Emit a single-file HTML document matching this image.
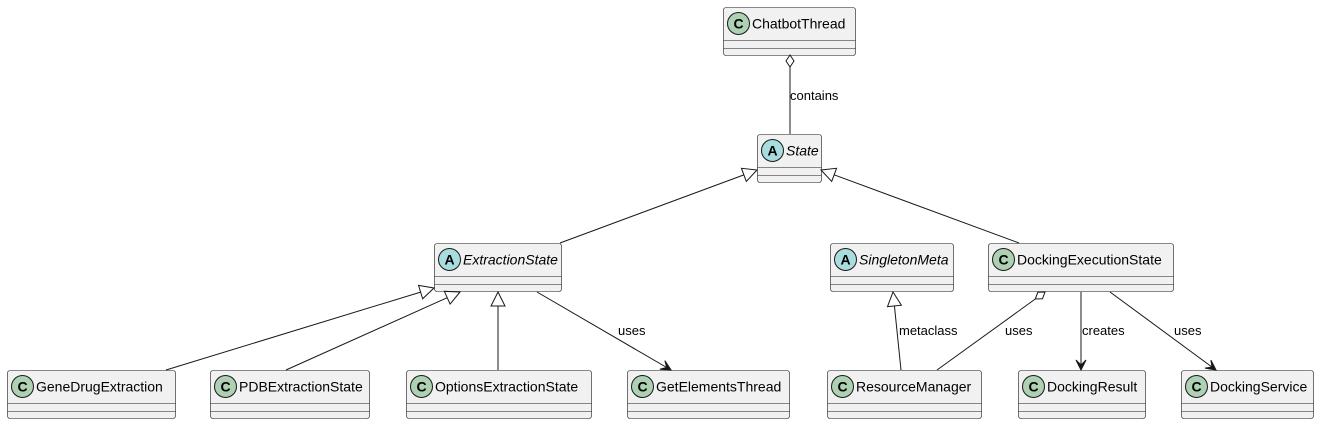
<!DOCTYPE html>
<html><head><meta charset="utf-8"><style>
html,body{margin:0;padding:0;background:#fff;width:1320px;height:424px;overflow:hidden}
svg{display:block}
text{font-family:"Liberation Sans","DejaVu Sans",sans-serif}
</style></head><body>
<svg id="s" width="1320" height="424" xmlns="http://www.w3.org/2000/svg">
<text x="790" y="100" font-size="13" fill="#000">contains</text>
<text x="618" y="335" font-size="13">uses</text>
<text x="899" y="335" font-size="13">metaclass</text>
<text x="1005" y="335" font-size="13">uses</text>
<text x="1082" y="335" font-size="13">creates</text>
<text x="1174" y="335" font-size="13">uses</text>
</svg>
<script>
const s=document.getElementById('s');const NS='http://www.w3.org/2000/svg';
function el(t,a,txt){const e=document.createElementNS(NS,t);for(const k in a)e.setAttribute(k,a[k]);if(txt)e.textContent=txt;s.appendChild(e);return e;}
function box(x,y,w,name,abs){
 el('rect',{x:x+.5,y:y+.5,width:w,height:48,rx:2.5,fill:'#F1F1F1',stroke:'#181818','stroke-width':.6});
 el('line',{x1:x+.5,y1:y+33.5,x2:x+w+.5,y2:y+33.5,stroke:'#181818','stroke-width':.6});
 el('line',{x1:x+.5,y1:y+41.5,x2:x+w+.5,y2:y+41.5,stroke:'#181818','stroke-width':.6});
 el('circle',{cx:x+15.5,cy:y+16.5,r:11,fill:abs?'#A9DCDF':'#ADD1B2',stroke:'#181818','stroke-width':1});
 el('text',{x:x+15.5,y:y+21.5,'font-size':14,'font-weight':'bold','text-anchor':'middle'},abs?'A':'C');
 el('text',{x:x+29,y:y+21.5,'font-size':14,'font-style':abs?'italic':'normal'},name);
}
box(723,7,132,'ChatbotThread');
box(757,134,64,'State',1);
box(434,243,127,'ExtractionState',1);
box(830,243,123,'SingletonMeta',1);
box(988,243,185,'DockingExecutionState');
box(7,370,168,'GeneDrugExtraction');
box(210,370,159,'PDBExtractionState');
box(406,370,185,'OptionsExtractionState');
box(627,370,162,'GetElementsThread');
box(827,370,154,'ResourceManager');
box(1018,370,127,'DockingResult');
box(1181,370,132,'DockingService');
function line(x1,y1,x2,y2){el('line',{x1,y1,x2,y2,stroke:'#181818','stroke-width':1});}
function unit(x1,y1,x2,y2){const dx=x2-x1,dy=y2-y1,l=Math.hypot(dx,dy);return[dx/l,dy/l];}
// triangle at (x2,y2) target
function gen(x1,y1,x2,y2){const[ux,uy]=unit(x1,y1,x2,y2);const L=14,W=7;const bx=x2-ux*L,by=y2-uy*L;
 line(x1,y1,bx,by);
 el('polygon',{points:`${x2},${y2} ${bx-uy*W},${by+ux*W} ${bx+uy*W},${by-ux*W}`,fill:'#fff',stroke:'#181818','stroke-width':1});}
function arrow(x1,y1,x2,y2){const[ux,uy]=unit(x1,y1,x2,y2);line(x1,y1,x2,y2);
 const L=10,W=5;const bx=x2-ux*L,by=y2-uy*L;
 el('polygon',{points:`${x2},${y2} ${bx-uy*W},${by+ux*W} ${x2-ux*5},${y2-uy*5} ${bx+uy*W},${by-ux*W}`,fill:'#181818',stroke:'#181818','stroke-width':1});}
// diamond at (x1,y1)
function dia(x1,y1,x2,y2){const[ux,uy]=unit(x1,y1,x2,y2);const L=12,W=4;
 const mx=x1+ux*L/2,my=y1+uy*L/2,ex=x1+ux*L,ey=y1+uy*L;line(ex,ey,x2,y2);
 el('polygon',{points:`${x1},${y1} ${mx-uy*W},${my+ux*W} ${ex},${ey} ${mx+uy*W},${my-ux*W}`,fill:'#fff',stroke:'#181818','stroke-width':1});}
dia(790,55,790,134);
gen(560,243,757,170);
gen(1019,243,821,170);
gen(166,370,434,288);
gen(286,370,460,292);
gen(498,370,498,292);
arrow(537,292,671,370);
gen(901,370,893,292);
dia(1045,292,937,370);
arrow(1081,292,1081,370);
arrow(1110,292,1216,370);
</script>
</body></html>
